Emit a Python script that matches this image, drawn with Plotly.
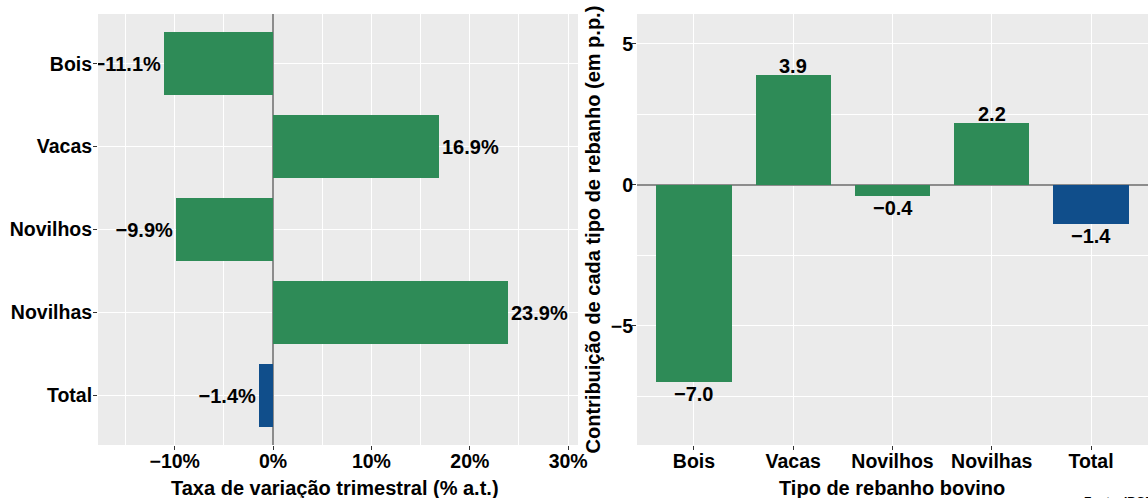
import plotly.graph_objects as go

# ---- data ----
categories = ["Bois", "Vacas", "Novilhos", "Novilhas", "Total"]
taxa_variacao = [-11.1, 16.9, -9.9, 23.9, -1.4]          # % a.t.
contribuicao = [-7.0, 3.9, -0.4, 2.2, -1.4]              # p.p.
bar_colors = ["#2E8B57", "#2E8B57", "#2E8B57", "#2E8B57", "#104E8B"]
x1_ticks = [-10, 0, 10, 20, 30]
x1_ticklabels = ["\u221210%", "0%", "10%", "20%", "30%"]
y2_ticks = [-5, 0, 5]
y2_ticklabels = ["\u22125", "0", "5"]


def fmt(v, suffix=""):
    s = f"{v:.1f}{suffix}"
    return s.replace("-", "\u2212")


W, H = 1148, 498
ML, MR, MT, MB = 0, 0, 14, 53
PW = W - ML - MR

FONT = "Liberation Sans"
BG = "#EBEBEB"
lblfont = dict(family=FONT, size=20, color="black", weight="bold")

fig = go.Figure()

fig.add_trace(go.Bar(
    y=categories, x=taxa_variacao, orientation="h",
    marker=dict(color=bar_colors, line=dict(width=0)),
    width=0.76,
    text=[fmt(v, "%") for v in taxa_variacao],
    textposition="outside", cliponaxis=True,
    textfont=lblfont,
    xaxis="x", yaxis="y", showlegend=False, hoverinfo="skip",
))

fig.add_trace(go.Bar(
    x=categories, y=contribuicao,
    marker=dict(color=bar_colors, line=dict(width=0)),
    width=0.76,
    xaxis="x2", yaxis="y2", showlegend=False, hoverinfo="skip",
))

tickfont = dict(family=FONT, size=19.5, color="black", weight="bold")
common = dict(
    showline=False, ticks="outside", ticklen=4, tickwidth=1, tickcolor="#333333",
    tickfont=tickfont, gridcolor="white", gridwidth=1.3,
)

annotations = [
    dict(text="Taxa de variação trimestral (% a.t.)", xref="paper", yref="paper",
         x=(335 - ML) / PW, y=-(488 - 445) / 431, xanchor="center", yanchor="middle",
         showarrow=False, font=lblfont),
    dict(text="Tipo de rebanho bovino", xref="paper", yref="paper",
         x=(892 - ML) / PW, y=-(488 - 445) / 431, xanchor="center", yanchor="middle",
         showarrow=False, font=lblfont),
    dict(text="Contribuição de cada tipo de rebanho (em p.p.)", xref="paper", yref="paper",
         x=(592 - ML) / PW, y=0.5, xanchor="center", yanchor="middle", textangle=-90,
         showarrow=False, font=lblfont),
    dict(text="Fonte: IBGE", xref="paper", yref="paper",
         x=(1082 - ML) / PW, y=-(493 - 445) / 431, xanchor="left", yanchor="top",
         showarrow=False, font=dict(family=FONT, size=12, color="black", weight="bold")),
]
for cat, v in zip(categories, contribuicao):
    annotations.append(dict(
        text=fmt(v), xref="x2", yref="y2", x=cat, y=v,
        xanchor="center", yanchor="middle", yshift=(9 if v >= 0 else -12),
        showarrow=False, font=lblfont,
    ))

fig.update_layout(
    width=W, height=H, autosize=False,
    margin=dict(l=ML, r=MR, t=MT, b=MB, autoexpand=False),
    paper_bgcolor="white", plot_bgcolor=BG,
    bargap=0,
    xaxis=dict(
        domain=[98 / PW, 578 / PW], anchor="y",
        range=[-17.8, 31.0], tickvals=x1_ticks, ticktext=x1_ticklabels,
        zeroline=True, zerolinecolor="#8C8C8C", zerolinewidth=1.5,
        minor=dict(dtick=5, tick0=0, showgrid=True, gridcolor="white", gridwidth=0.6),
        ticklabelstandoff=-5,
        **common,
    ),
    yaxis=dict(
        domain=[0, 1], anchor="x",
        type="category", categoryorder="array", categoryarray=categories,
        range=[4.6, -0.6], zeroline=False, ticklabelstandoff=-3,
        **common,
    ),
    xaxis2=dict(
        domain=[637 / PW, 1.0], anchor="y2",
        type="category", categoryorder="array", categoryarray=categories,
        range=[-0.574, 4.574], zeroline=False, ticklabelstandoff=-5,
        **common,
    ),
    yaxis2=dict(
        domain=[0, 1], anchor="x2",
        range=[-9.22, 6.06], tickvals=y2_ticks, ticktext=y2_ticklabels,
        zeroline=True, zerolinecolor="#8C8C8C", zerolinewidth=1.5,
        minor=dict(dtick=2.5, tick0=0, showgrid=True, gridcolor="white", gridwidth=0.6),
        ticklabelstandoff=-5,
        **common,
    ),
    annotations=annotations,
)

fig.write_html("out.html", config={"displayModeBar": False})
with open("out.html", "r", encoding="utf-8") as f:
    html = f.read()
html = html.replace("<head>", "<head><style>html,body{margin:0;padding:0;overflow:hidden}</style>", 1)
with open("out.html", "w", encoding="utf-8") as f:
    f.write(html)
